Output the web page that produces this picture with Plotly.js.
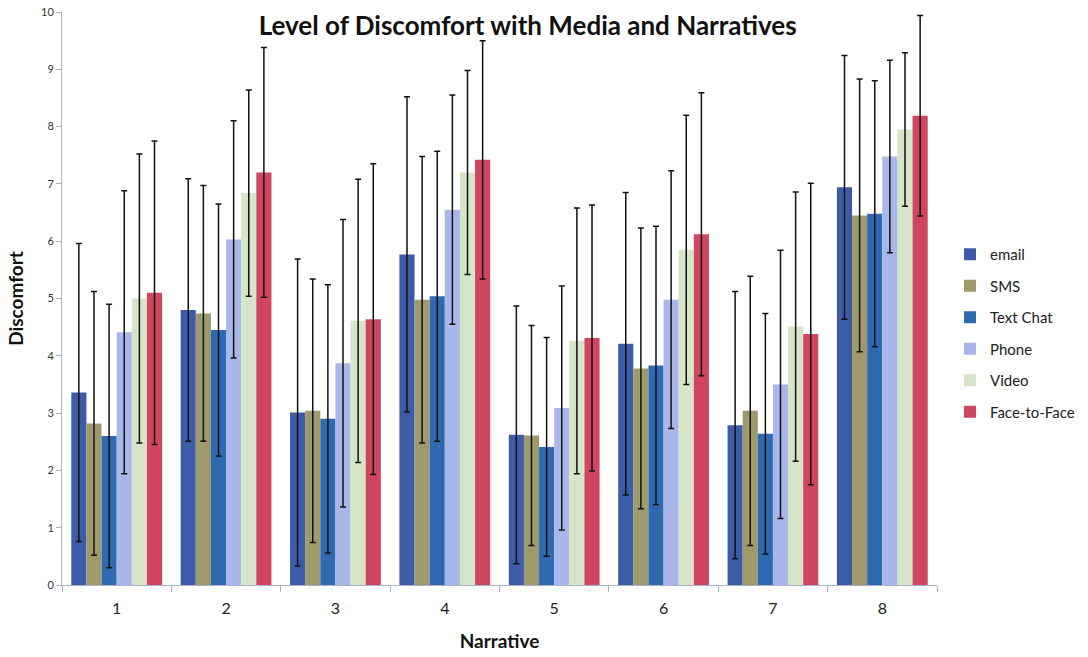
<!DOCTYPE html>
<html>
<head>
<meta charset="utf-8">
<script src="https://cdn.plot.ly/plotly-3.0.1.min.js"></script>
<style>html,body{margin:0;padding:0;background:#fff;}#chart{width:1088px;height:657px;}</style>
</head>
<body>
<div id="chart"></div>
<script>
const narratives = ['1','2','3','4','5','6','7','8'];
const seriesNames = ['email','SMS','Text Chat','Phone','Video','Face-to-Face'];

const email     = [3.36, 4.80, 3.01, 5.77, 2.62, 4.21, 2.79, 6.94];
const sms       = [2.82, 4.74, 3.04, 4.98, 2.61, 3.78, 3.04, 6.45];
const textChat  = [2.60, 4.45, 2.90, 5.04, 2.41, 3.83, 2.64, 6.48];
const phone     = [4.41, 6.03, 3.87, 6.55, 3.09, 4.98, 3.50, 7.48];
const video     = [5.00, 6.84, 4.61, 7.20, 4.26, 5.85, 4.51, 7.95];
const faceToFace= [5.10, 7.20, 4.64, 7.42, 4.31, 6.12, 4.38, 8.19];

const emailErr     = [2.60, 2.29, 2.68, 2.75, 2.25, 2.64, 2.33, 2.30];
const smsErr       = [2.30, 2.23, 2.30, 2.50, 1.92, 2.45, 2.35, 2.38];
const textChatErr  = [2.30, 2.20, 2.34, 2.53, 1.91, 2.43, 2.10, 2.32];
const phoneErr     = [2.47, 2.07, 2.51, 2.00, 2.13, 2.25, 2.34, 1.68];
const videoErr     = [2.52, 1.80, 2.47, 1.78, 2.32, 2.35, 2.35, 1.34];
const faceToFaceErr= [2.65, 2.18, 2.71, 2.08, 2.32, 2.47, 2.63, 1.75];

const values = [email, sms, textChat, phone, video, faceToFace];
const errors = [emailErr, smsErr, textChatErr, phoneErr, videoErr, faceToFaceErr];
const colors = ['#3D5BA6', '#9E9A6C', '#2F6AB1', '#A8B6EA', '#D6E4C8', '#D0455F'];

const traces = seriesNames.map((name, i) => ({
  type: 'bar',
  name: name,
  legendgroup: 'g' + i,
  x: narratives,
  y: values[i],
  marker: {color: colors[i]},
  error_y: {type: 'data', array: errors[i], visible: true, color: '#111', thickness: 1.5, width: 3}
}));

const font = 'Lato, "Open Sans", "DejaVu Sans", sans-serif';

const layout = {
  width: 1088, height: 657,
  margin: {l: 62, r: 151, t: 12, b: 72, autoexpand: false},
  paper_bgcolor: '#fff', plot_bgcolor: '#fff',
  barmode: 'group',
  bargap: 0.17,
  bargroupgap: 0,
  font: {family: font, color: '#222'},
  title: {
    text: '<b>Level of Discomfort with Media and Narratives</b>',
    font: {family: font, size: 26, color: '#111'},
    x: 0.485, xref: 'container', xanchor: 'center',
    y: 0.96, yref: 'container', yanchor: 'middle'
  },
  xaxis: {
    type: 'category',
    showline: true, linecolor: '#A9B1C9', linewidth: 1,
    ticks: 'outside', tickson: 'boundaries', ticklen: 6, tickcolor: '#A9B1C9',
    tickfont: {family: font, size: 16, color: '#222'},
    ticklabelstandoff: 9,
    showgrid: false, zeroline: false,
    title: {text: '<b>Narrative</b>', font: {family: font, size: 19, color: '#111'}, standoff: 18}
  },
  yaxis: {
    range: [0, 10], dtick: 1,
    showline: true, linecolor: '#A9B1C9', linewidth: 1,
    ticks: 'outside', ticklen: 5, tickcolor: '#A9B1C9',
    tickfont: {family: font, size: 11, color: '#333'},
    showgrid: false, zeroline: false,
    title: {text: '<b>Discomfort</b>', font: {family: font, size: 19, color: '#111'}, standoff: 12}
  },
  legend: {
    xref: 'container', yref: 'container',
    x: 950 / 1088, xanchor: 'left', y: 1 - 238 / 657, yanchor: 'top',
    font: {family: font, size: 15, color: '#222'},
    tracegroupgap: 9, itemwidth: 30,
    bgcolor: 'rgba(0,0,0,0)'
  },
  showlegend: true
};

Plotly.newPlot('chart', traces, layout, {displayModeBar: false, staticPlot: true});
</script>
</body>
</html>
